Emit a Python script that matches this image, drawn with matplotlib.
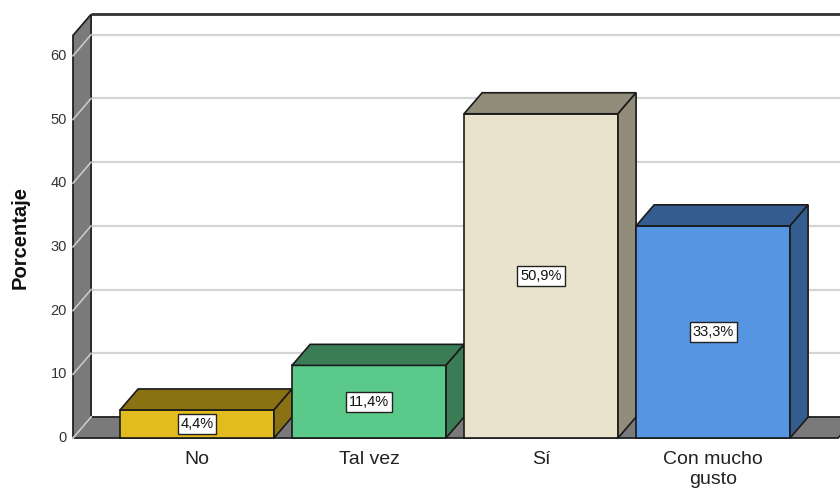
import matplotlib.pyplot as plt
from matplotlib.patches import Polygon, Rectangle

# datos del grafico
categorias = ['No', 'Tal vez', 'Sí', 'Con mucho\ngusto']
porcentajes = [4.4, 11.4, 50.9, 33.3]
etiquetas = ['4,4%', '11,4%', '50,9%', '33,3%']
colores_frente = ['#E2BC1E', '#5BC98A', '#E9E3CD', '#5595E2']
colores_lado = ['#8A7213', '#3A7C55', '#928C7A', '#355C8E']
ticks_y = [0, 10, 20, 30, 40, 50, 60]

plt.rcParams['font.family'] = ['Liberation Sans', 'DejaVu Sans']

fig = plt.figure(figsize=(8.4, 4.9), dpi=100)
ax = fig.add_axes([73 / 840, 52 / 490, 767 / 840, 423.6 / 490])
ax.set_xlim(-0.721, 3.738)
ax.set_ylim(0, 66.5)
ax.axis('off')

# geometria 3D (profundidad en unidades de datos)
DX, DY = 0.105, 3.3
ANCHO = 0.895
x0, xr = -0.721, 3.727
ytop = 63.2
gris = '#7A7A7A'

# pared del fondo y rejilla
ax.add_patch(Rectangle((x0 + DX, DY), xr - x0 + 0.2, ytop, facecolor='white',
                       edgecolor='none', zorder=1, clip_on=False))
ax.plot([x0 + DX, xr + DX + 0.3], [ytop + DY] * 2, color='#333333', lw=2,
        zorder=2, clip_on=False, solid_capstyle='butt')
for t in ticks_y[1:]:
    ax.plot([x0 + DX, xr + DX + 0.3], [t + DY] * 2, color='#D4D4D4', lw=1.6,
            zorder=2, clip_on=False)

# pared izquierda
ax.add_patch(Polygon([(x0, 0), (x0, ytop), (x0 + DX, ytop + DY), (x0 + DX, DY)],
                     closed=True, facecolor=gris, edgecolor='#222222', lw=1.3,
                     zorder=3, clip_on=False))
for t in ticks_y:
    ax.plot([x0, x0 + DX], [t, t + DY], color='#C8C8C8', lw=1.2, zorder=4,
            clip_on=False)

# suelo
ax.add_patch(Polygon([(x0, 0), (xr, 0), (xr + DX, DY), (x0 + DX, DY)],
                     closed=True, facecolor=gris, edgecolor='#222222', lw=1.3,
                     zorder=3, clip_on=False))
ax.plot([x0, x0 + DX], [0, DY], color='#C8C8C8', lw=1.2, zorder=4, clip_on=False)

# barras 3D
for i, (v, cf, cl, lab) in enumerate(zip(porcentajes, colores_frente,
                                         colores_lado, etiquetas)):
    xa, xb = i - ANCHO / 2, i + ANCHO / 2
    ax.add_patch(Rectangle((xa, 0), ANCHO, v, facecolor=cf, edgecolor='#1A1A1A',
                           lw=1.2, zorder=5, clip_on=False))
    ax.add_patch(Polygon([(xa, v), (xb, v), (xb + DX, v + DY), (xa + DX, v + DY)],
                         closed=True, facecolor=cl, edgecolor='#1A1A1A', lw=1.2,
                         zorder=5, clip_on=False))
    ax.add_patch(Polygon([(xb, 0), (xb, v), (xb + DX, v + DY), (xb + DX, DY)],
                         closed=True, facecolor=cl, edgecolor='#1A1A1A', lw=1.2,
                         zorder=5, clip_on=False))
    ax.text(i, v / 2, lab, ha='center', va='center', fontsize=10.5, color='#111111',
            zorder=10, bbox=dict(boxstyle='square,pad=0.2', facecolor='white',
                                 edgecolor='#222222', lw=1))
    ax.text(i, -2.1, categorias[i], ha='center', va='top', fontsize=14,
            color='#222222', linespacing=1.2)

# etiquetas del eje y
for t in ticks_y:
    ax.text(x0 - 0.035, t, str(t), ha='right', va='center', fontsize=10.5,
            color='#333333')

fig.text(20 / 840, 0.516, 'Porcentaje', rotation=90, ha='center', va='center',
         fontsize=14.5, fontweight='bold', color='#111111')

fig.savefig('out.png', dpi=100)
